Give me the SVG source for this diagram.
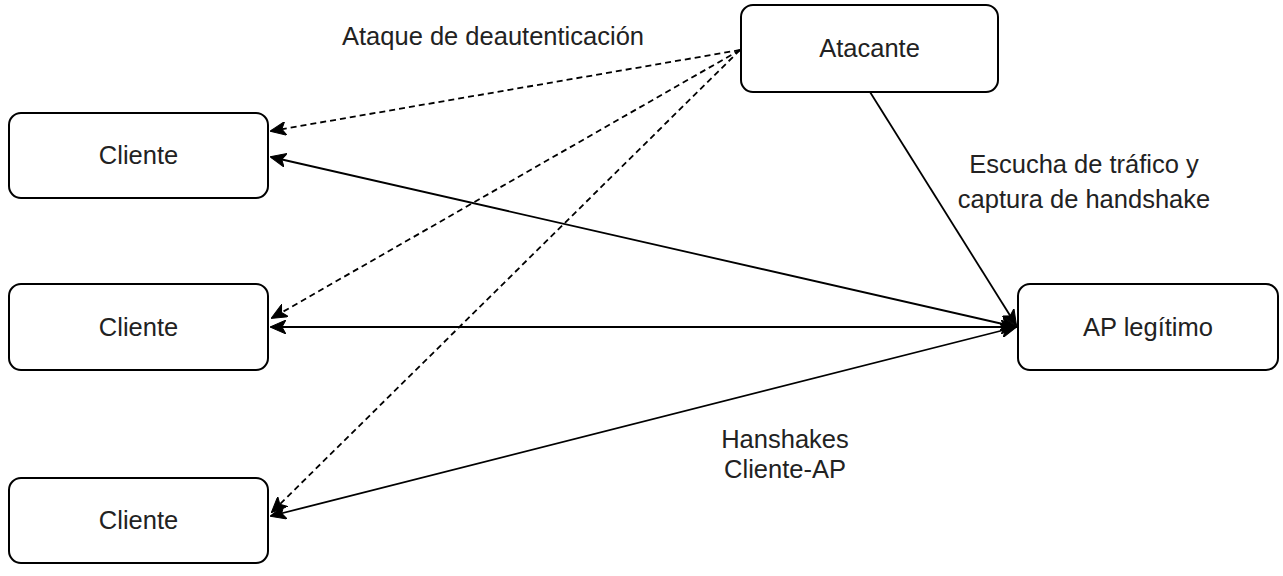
<svg xmlns="http://www.w3.org/2000/svg" width="1283" height="576" viewBox="0 0 1283 576">
  <style>
    .box { fill: #ffffff; stroke: #000000; stroke-width: 2; }
    .lbl { font-family: "Liberation Sans", Arial, sans-serif; font-size: 25.5px; fill: #222222; text-anchor: middle; }
    .edge { fill: none; stroke: #000000; stroke-width: 1.8; }
    .dash { stroke-dasharray: 6 4; }
  </style>
  <defs>
    <marker id="arr" viewBox="0 0 16 14" refX="15" refY="7" markerWidth="16" markerHeight="14" markerUnits="userSpaceOnUse" orient="auto-start-reverse">
      <path d="M0,0 L16,7 L0,14 L4,7 Z" fill="#000000" stroke="#000000" stroke-width="1" stroke-dasharray="none"/>
    </marker>
  </defs>
  <rect width="1283" height="576" fill="#ffffff"/>

  <g id="connectors">
    <line class="edge dash" x1="740" y1="50" x2="271" y2="131" marker-end="url(#arr)"/>
    <line class="edge dash" x1="740" y1="50" x2="272" y2="318" marker-end="url(#arr)"/>
    <line class="edge dash" x1="740" y1="50" x2="272" y2="512" marker-end="url(#arr)"/>
    <line class="edge" x1="1016" y1="327" x2="271" y2="157" marker-start="url(#arr)" marker-end="url(#arr)"/>
    <line class="edge" x1="1016" y1="327" x2="271" y2="327" marker-start="url(#arr)" marker-end="url(#arr)"/>
    <line class="edge" x1="1016" y1="327" x2="271" y2="516" marker-start="url(#arr)" marker-end="url(#arr)"/>
    <line class="edge" x1="870" y1="92" x2="1016" y2="325" marker-end="url(#arr)"/>
    <text class="lbl" x="493" y="45">Ataque de deautenticación</text>
    <text class="lbl" x="1084" y="173">Escucha de tráfico y</text>
    <text class="lbl" x="1084" y="208">captura de handshake</text>
    <text class="lbl" x="785" y="448">Hanshakes</text>
    <text class="lbl" x="785" y="478">Cliente-AP</text>
  </g>

  <g id="atacante">
    <rect class="box" x="741" y="5" width="257" height="87" rx="12" ry="12"/>
    <text class="lbl" x="869.5" y="57">Atacante</text>
  </g>
  <g id="ap">
    <rect class="box" x="1018" y="284" width="260" height="86" rx="12" ry="12"/>
    <text class="lbl" x="1148" y="336">AP legítimo</text>
  </g>
  <g id="cliente1">
    <rect class="box" x="9" y="113" width="259" height="85" rx="12" ry="12"/>
    <text class="lbl" x="138.5" y="164">Cliente</text>
  </g>
  <g id="cliente2">
    <rect class="box" x="9" y="284" width="259" height="86" rx="12" ry="12"/>
    <text class="lbl" x="138.5" y="336">Cliente</text>
  </g>
  <g id="cliente3">
    <rect class="box" x="9" y="478" width="259" height="85" rx="12" ry="12"/>
    <text class="lbl" x="138.5" y="529">Cliente</text>
  </g>
</svg>
